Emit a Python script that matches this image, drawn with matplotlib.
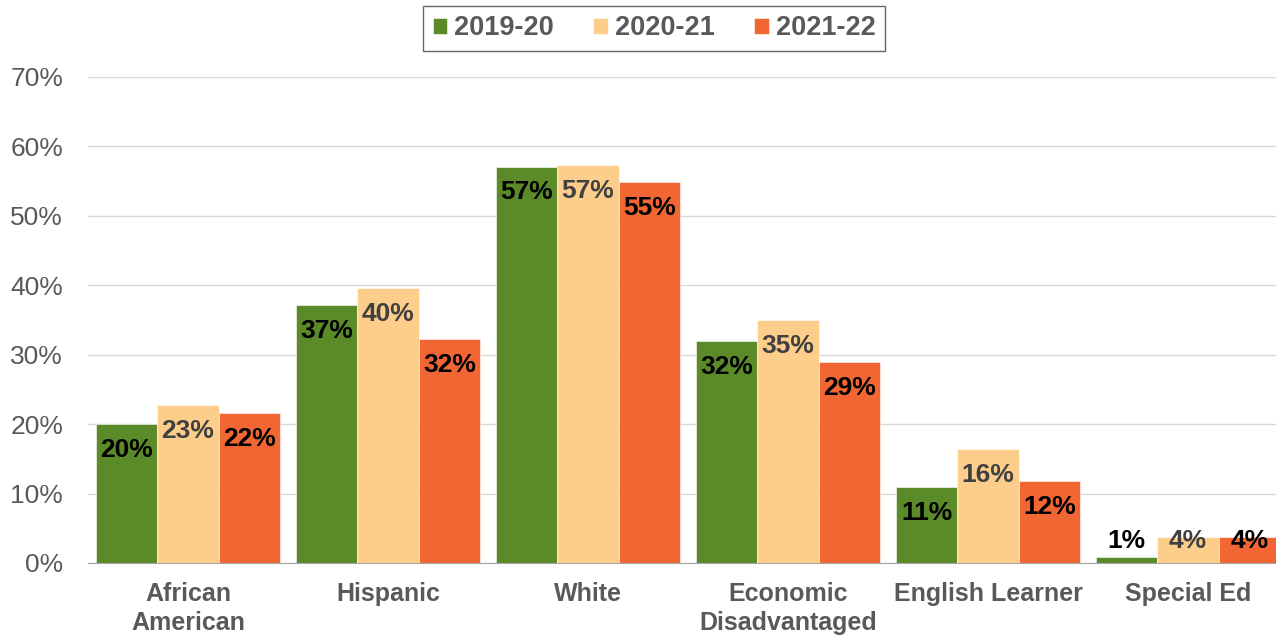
import numpy as np
import matplotlib.pyplot as plt

plt.rcParams['font.family'] = ['Liberation Sans', 'DejaVu Sans']

categories = ["African\nAmerican", "Hispanic", "White", "Economic\nDisadvantaged",
              "English Learner", "Special Ed"]
years = ["2019-20", "2020-21", "2021-22"]
values_1920 = [20.0, 37.2, 57.1, 32.0, 11.0, 0.9]
values_2021 = [22.8, 39.6, 57.3, 35.0, 16.4, 3.7]
values_2122 = [21.6, 32.3, 54.9, 29.0, 11.8, 3.7]
labels_1920 = ["20%", "37%", "57%", "32%", "11%", "1%"]
labels_2021 = ["23%", "40%", "57%", "35%", "16%", "4%"]
labels_2122 = ["22%", "32%", "55%", "29%", "12%", "4%"]
yticks = [0, 10, 20, 30, 40, 50, 60, 70]

colors = ["#5b8a29", "#fdcd8b", "#f26634"]
label_colors = ["black", "#404040", "black"]

fig = plt.figure(figsize=(12.76, 6.35), dpi=100)
ax = fig.add_axes([88 / 1276, 1 - 563 / 635, 1200 / 1276, (563 - 77) / 635])

x = np.arange(len(categories))
w = 0.307
series = [values_1920, values_2021, values_2122]
labels = [labels_1920, labels_2021, labels_2122]

for i, (vals, labs) in enumerate(zip(series, labels)):
    pos = x + (i - 1) * w
    ax.bar(pos, vals, w, color=colors[i], label=years[i], zorder=2,
           edgecolor='white', linewidth=0.4)
    for px, v, t in zip(pos, vals, labs):
        if v < 5:
            ax.text(px, 3.2, t, ha='center', va='center', fontsize=19,
                    fontweight='bold', color=label_colors[i], zorder=3)
        else:
            ax.annotate(t, (px, v), xytext=(0, -10), textcoords='offset points',
                        ha='center', va='top', fontsize=19, fontweight='bold',
                        color=label_colors[i], zorder=3)

ax.set_xlim(-0.5, 5.5)
ax.set_ylim(0, 70)
ax.set_yticks(yticks)
ax.set_yticklabels([f"{t}%" for t in yticks], fontsize=19, color="#595959")
ax.set_xticks(x)
ax.set_xticklabels(categories, fontsize=18, fontweight='bold', color="#595959",
                   linespacing=1.25)
ax.tick_params(axis='both', length=0)
ax.tick_params(axis='x', pad=14)
ax.tick_params(axis='y', pad=18)
ax.grid(axis='y', color="#d9d9d9", linewidth=1, zorder=0)
for s in ['top', 'right', 'left']:
    ax.spines[s].set_visible(False)
ax.spines['bottom'].set_color("#a6a6a6")
ax.spines['bottom'].set_zorder(4)

leg = fig.legend(loc='upper center', bbox_to_anchor=(654 / 1276, 1 - 6 / 635), ncol=3,
                 frameon=True, fancybox=False, fontsize=19.5, handlelength=0.55,
                 handleheight=0.55, handletextpad=0.25, columnspacing=1.45,
                 borderpad=0.35, borderaxespad=0)
leg.get_frame().set_edgecolor("#404040")
leg.get_frame().set_linewidth(1)
for t in leg.get_texts():
    t.set_fontweight('bold')
    t.set_color("#595959")

fig.savefig("out.png", dpi=100)
